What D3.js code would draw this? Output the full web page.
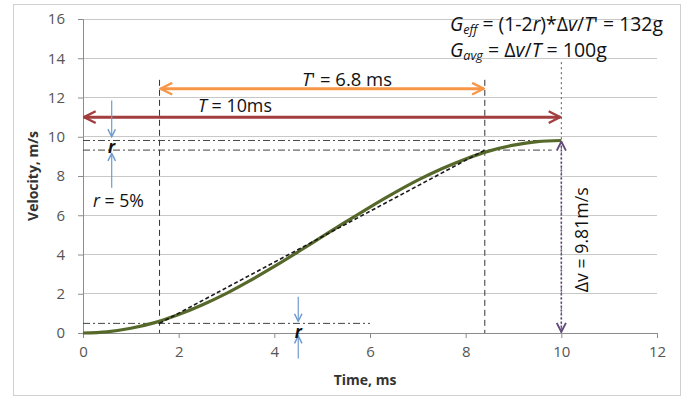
<!DOCTYPE html>
<html><head><meta charset="utf-8">
<script src="https://cdn.jsdelivr.net/npm/d3@7"></script>
<style>
html,body{margin:0;padding:0;background:#fff;}
svg{display:block;font-family:"Open Sans","Liberation Sans",sans-serif;}
</style></head>
<body><svg id="c" width="689" height="401"></svg>
<script>
// ---- data ----
const timeMs   = [0,0.5,1,1.5,2,2.5,3,3.5,4,4.5,5,5.5,6,6.5,7,7.5,8,8.5,9,9.5,10];
const velocity = [0,0.06,0.24,0.53,0.94,1.44,2.02,2.68,3.39,4.14,4.91,5.67,6.42,7.13,7.79,8.37,8.87,9.28,9.57,9.75,9.81];
const xTicks = [0,2,4,6,8,10,12];
const yTicks = [0,2,4,6,8,10,12,14,16];
const tStart = 1.6, tEnd = 8.4, tTotal = 10;
const vStart = 0.49, vEnd = 9.32, vMax = 9.81;
const periodT = [0, 10], periodTy = 11.0;
const periodTp = [1.6, 8.4], periodTpy = 12.45;

const W = 689, H = 401;
const svg = d3.select("#c");
const x = d3.scaleLinear().domain([0,12]).range([83,657]);
const y = d3.scaleLinear().domain([0,16]).range([333,19]);

// outer border
svg.append("rect").attr("x",13.5).attr("y",4.5).attr("width",667).attr("height",391)
  .attr("fill","#fff").attr("stroke","#d0d0d0");

// markers
const defs = svg.append("defs");
function mk(id,color,size){
  defs.append("marker").attr("id",id).attr("viewBox","0 0 12 12").attr("refX",11).attr("refY",6)
    .attr("markerWidth",size).attr("markerHeight",size).attr("markerUnits","userSpaceOnUse")
    .attr("orient","auto-start-reverse")
    .append("path").attr("d","M1,1 L11,6 L1,11").attr("fill","none").attr("stroke",color).attr("stroke-width",2);
}
mk("aRed","#a23e3e",14); mk("aOr","#f79646",14); mk("aPur","#604a7b",11); mk("aBlue","#6f9bd0",9);

// gridlines
svg.append("g").selectAll("line").data(yTicks.filter(d=>d>0)).join("line")
  .attr("x1",x(0)).attr("x2",x(12)).attr("y1",d=>y(d)).attr("y2",d=>y(d))
  .attr("stroke","#c8c8c8").attr("stroke-width",1).attr("shape-rendering","crispEdges");

// axes
const xAxis = svg.append("g").attr("transform",`translate(0,${y(0)})`)
  .call(d3.axisBottom(x).tickValues(xTicks).tickSize(5).tickPadding(8));
const yAxis = svg.append("g").attr("transform",`translate(${x(0)},0)`)
  .call(d3.axisLeft(y).tickValues(yTicks).tickSize(5).tickPadding(13));
[xAxis,yAxis].forEach(g=>{
  g.select(".domain").attr("stroke","#8c8c8c");
  g.selectAll(".tick line").attr("stroke","#8c8c8c");
  g.selectAll(".tick text").attr("fill","#555").attr("font-size",15).attr("font-family","'Open Sans',sans-serif");
});

// axis titles
svg.append("text").attr("x",x(6)-5).attr("y",385).attr("text-anchor","middle")
  .attr("font-weight","bold").attr("font-size",14).attr("fill","#333").text("Time, ms");
svg.append("text").attr("transform",`translate(38,${y(8)}) rotate(-90)`).attr("text-anchor","middle")
  .attr("font-weight","bold").attr("font-size",14).attr("fill","#333").text("Velocity, m/s");

const ann = svg.append("g");
// horizontal dash-dot reference lines
[[0,tTotal,vMax],[0,9.8,vEnd],[0,6,vStart]].forEach(([a,b,v])=>{
  ann.append("line").attr("x1",x(a)).attr("x2",x(b)).attr("y1",y(v)).attr("y2",y(v))
    .attr("stroke","#444").attr("stroke-width",1).attr("stroke-dasharray","7,3,2,3");
});
// vertical dashed lines
[tStart,tEnd].forEach(t=>{
  ann.append("line").attr("x1",x(t)).attr("x2",x(t)).attr("y1",y(12.9)).attr("y2",y(0))
    .attr("stroke","#333").attr("stroke-width",1).attr("stroke-dasharray","6,4");
});
ann.append("line").attr("x1",x(tTotal)).attr("x2",x(tTotal)).attr("y1",y(13.8)).attr("y2",y(0))
  .attr("stroke","#555").attr("stroke-width",1).attr("stroke-dasharray","2,3");

// curve
svg.append("path").datum(d3.zip(timeMs,velocity))
  .attr("d",d3.line().x(d=>x(d[0])).y(d=>y(d[1])).curve(d3.curveCatmullRom))
  .attr("fill","none").attr("stroke","#56692a").attr("stroke-width",3.2);

// secant dashed line
svg.append("line").attr("x1",x(tStart)).attr("y1",y(vStart)).attr("x2",x(tEnd)).attr("y2",y(vEnd))
  .attr("stroke","#1a1a1a").attr("stroke-width",1.6).attr("stroke-dasharray","4,2.5");

// T arrow
svg.append("line").attr("x1",x(periodT[0])+1).attr("x2",x(periodT[1])-1).attr("y1",y(periodTy)).attr("y2",y(periodTy))
  .attr("stroke","#a23e3e").attr("stroke-width",3)
  .attr("marker-start","url(#aRed)").attr("marker-end","url(#aRed)");
// T' arrow
svg.append("line").attr("x1",x(periodTp[0])+1).attr("x2",x(periodTp[1])-1).attr("y1",y(periodTpy)).attr("y2",y(periodTpy))
  .attr("stroke","#f79646").attr("stroke-width",3)
  .attr("marker-start","url(#aOr)").attr("marker-end","url(#aOr)");
// delta v arrow
svg.append("line").attr("x1",x(tTotal)).attr("x2",x(tTotal)).attr("y1",y(vMax)+1).attr("y2",y(0)-1)
  .attr("stroke","#604a7b").attr("stroke-width",1.6).attr("stroke-dasharray","2,2")
  .attr("marker-start","url(#aPur)").attr("marker-end","url(#aPur)");

// r arrows
function blueArrow(t,v0,v1){
  svg.append("line").attr("x1",x(t)).attr("x2",x(t)).attr("y1",y(v0)).attr("y2",y(v1))
    .attr("stroke","#6f9bd0").attr("stroke-width",1.2).attr("marker-end","url(#aBlue)");
}
blueArrow(0.6,11.85,10.0); blueArrow(0.6,7.4,9.15);
blueArrow(4.5,1.85,0.6); blueArrow(4.5,-1.3,-0.15);

// texts
function rich(tx, ty, parts, opts={}){
  const size = opts.size||17;
  const t = svg.append("text").attr("x",tx).attr("y",ty).attr("font-size",size).attr("fill","#111");
  if(opts.anchor) t.attr("text-anchor",opts.anchor);
  if(opts.transform) t.attr("transform",opts.transform).attr("x",0).attr("y",0);
  parts.forEach(p=>{
    const s = t.append("tspan").text(p.t);
    if(p.i) s.attr("font-style","italic");
    if(p.b) s.attr("font-weight","bold");
    if(p.sub){ s.attr("font-size",size*0.65).attr("dy",3); }
    if(p.up){ s.attr("dy",-3); }
  });
  if(opts.width){
    const w = t.node().getComputedTextLength();
    const ns = size*opts.width/w;
    t.attr("font-size",ns);
    t.selectAll("tspan").each(function(){
      const s=d3.select(this);
      if(s.attr("font-size")) s.attr("font-size",ns*0.65);
    });
  }
  return t;
}
rich(302,86,[{t:"T",i:1},{t:"' = 6.8 ms"}],{width:90});
rich(198,112,[{t:"T",i:1},{t:" = 10ms"}],{width:74});
rich(93,207,[{t:"r",i:1},{t:" = 5%"}],{width:51});
rich(x(0.6),y(vMax)+13,[{t:"r",i:1,b:1}],{anchor:"middle"});
rich(x(4.5),y(0)+5,[{t:"r",i:1,b:1}],{anchor:"middle"});
rich(450,31,[{t:"G",i:1},{t:"eff",i:1,sub:1},{t:" = (1-2",up:1},{t:"r",i:1},{t:")*Δ"},{t:"v",i:1},{t:"/"},{t:"T",i:1},{t:"' = 132g"}],{width:213});
rich(450,57,[{t:"G",i:1},{t:"avg",i:1,sub:1},{t:" = Δ",up:1},{t:"v",i:1},{t:"/"},{t:"T",i:1},{t:" = 100g"}],{width:157});
rich(0,0,[{t:"Δ"},{t:"v"},{t:" = 9.81m/s"}],{anchor:"middle",size:16,width:105,transform:`translate(588,${y(4.75)}) rotate(-90)`});
</script></body></html>
